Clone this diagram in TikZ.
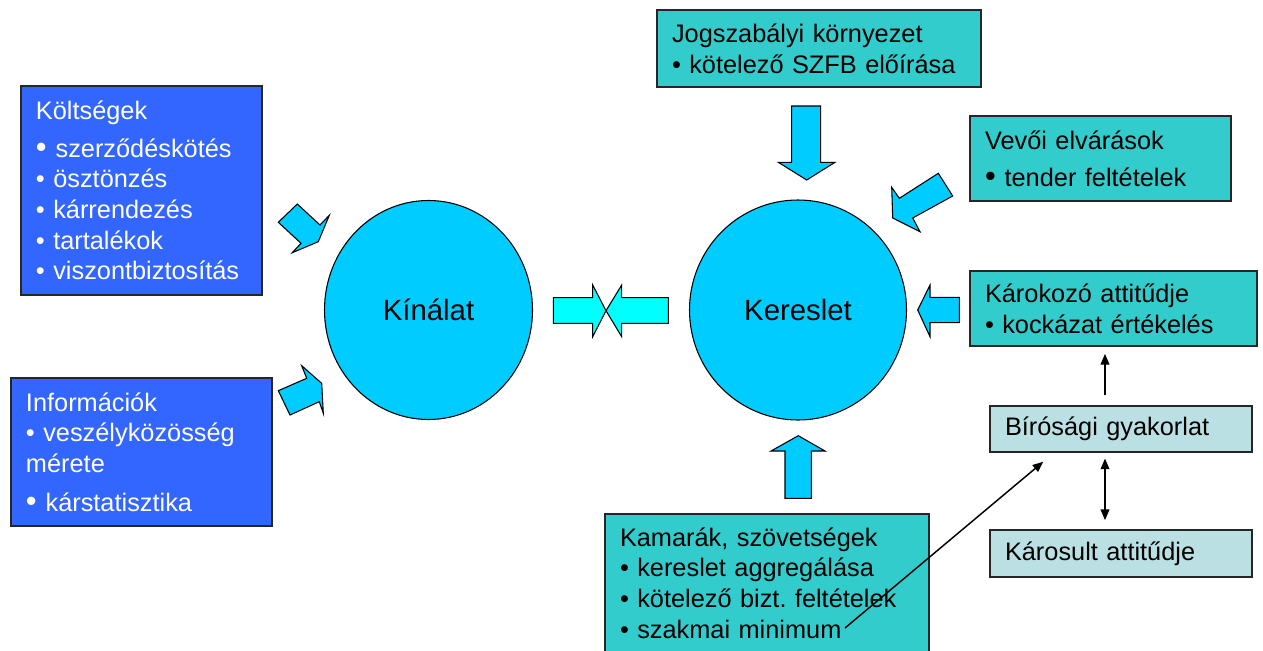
\documentclass[tikz,border=0pt]{standalone}
\usepackage{fontspec}
\setmainfont{Liberation Sans}
\usetikzlibrary{arrows.meta,shapes.geometric}
\definecolor{kekdoboz}{RGB}{51,102,255}
\definecolor{turkiz}{RGB}{51,204,204}
\definecolor{halvany}{RGB}{187,224,227}
\definecolor{korkek}{RGB}{0,204,255}
\definecolor{ciankek}{RGB}{0,255,255}
\frenchspacing
\def\nagypont{{\fontsize{23}{23}\selectfont •}\hspace{0.35em}}
\tikzset{
	doboz/.style={draw=black!85, line width=0.8pt, align=left, inner xsep=11.25pt, inner ysep=0pt},
	kekbox/.style={doboz, fill=kekdoboz, text=white},
	turkizbox/.style={doboz, fill=turkiz},
	halvanybox/.style={doboz, fill=halvany},
	kor/.style={ellipse, draw, line width=0.8pt, fill=korkek, inner sep=0pt, font=\fontsize{22}{26}\selectfont},
	vastag/.style={draw, line width=0.8pt, fill=korkek, line join=miter},
	vekony/.style={line width=1.1pt, -{Triangle[length=8pt,width=6.5pt]}}
}

\begin{document}
\begin{tikzpicture}[x=0.75pt, y=-0.75pt, font=\fontsize{19}{23}\selectfont]
			%%%%% START %%%%%
			\useasboundingbox (0,0) rectangle (1263,650);
			
			\node[kekbox, minimum width=180.75pt, minimum height=156.75pt, text width=158.25pt] (koltseg) at (141.5,190.5)
				{Költségek\\[5pt]\nagypont szerződéskötés\\• ösztönzés\\• kárrendezés\\• tartalékok\\• viszontbiztosítás};
			\node[kekbox, minimum width=195.75pt, minimum height=111pt, text width=173.25pt] (info) at (141.5,452)
				{Információk\\• veszélyközösség\\mérete\\[6pt]\nagypont kárstatisztika};
			
			\node[kor, minimum width=156pt, minimum height=164.25pt] (kinalat) at (428.5,310) {Kínálat};
			\node[kor, minimum width=162.75pt, minimum height=165pt] (kereslet) at (798,310) {Kereslet};
			
			\node[turkizbox, minimum width=243pt, minimum height=57.75pt, text width=220.5pt] (jog) at (819,48.5)
				{Jogszabályi környezet\\• kötelező SZFB előírása};
			\node[turkizbox, minimum width=195.75pt, minimum height=63.75pt, text width=173.25pt] (vevo) at (1100.5,158.5)
				{Vevői elvárások\\[4.5pt]\nagypont tender feltételek};
			\node[turkizbox, minimum width=215.25pt, minimum height=56.25pt, text width=192.75pt] (karokozo) at (1113.5,308.5)
				{Károkozó attitűdje\\• kockázat értékelés};
			\node[turkizbox, minimum width=243pt, minimum height=103.5pt, text width=220.5pt] (kamara) at (767,583)
				{Kamarák, szövetségek\\• kereslet aggregálása\\• kötelező bizt. feltételek\\• szakmai minimum};
			
			\node[halvanybox, minimum width=196.5pt, minimum height=34.5pt, text width=174pt] (birosag) at (1121,429) {Bírósági gyakorlat};
			\node[halvanybox, minimum width=196.5pt, minimum height=35.25pt, text width=174pt] (karosult) at (1121,553.5) {Károsult attitűdje};
			
			% vastag nyilak
			\draw[vastag] (278.3,222.3) -- (297.3,204) -- (320,225) -- (329.3,215.3) -- (318.3,241.7) -- (292.3,252.7) -- (301,243.3) -- cycle;
			\draw[vastag] (278.3,390.7) -- (306.7,378.3) -- (301.7,365.7) -- (321.7,383.3) -- (323.3,413.3) -- (319.3,401.7) -- (290,415) -- cycle;
			\draw[vastag] (791.7,106) -- (820.7,106) -- (820.7,162.3) -- (835,162.3) -- (806.7,180) -- (778.3,162.3) -- (791.7,162.3) -- cycle;
			\draw[vastag] (938.3,173.3) -- (952.7,196) -- (912.7,218) -- (920,231.7) -- (892.7,218) -- (891.7,187.3) -- (899.3,198.3) -- cycle;
			\draw[vastag] (959.3,297.3) -- (930,297.3) -- (930,285) -- (917.7,310) -- (930,336.7) -- (930,322.7) -- (959.3,322.7) -- cycle;
			\draw[vastag] (785,498.3) -- (785,451) -- (771,451) -- (798.3,435.7) -- (825,451) -- (811.3,451) -- (811.3,498.3) -- cycle;
			
			\draw[vastag, fill=ciankek] (553.3,297.7) -- (592.7,297.7) -- (592.7,285) -- (606,310.7) -- (592.7,336.7) -- (592.7,323.3) -- (553.3,323.3) -- cycle;
			\draw[vastag, fill=ciankek] (668.3,297.7) -- (621.7,297.7) -- (621.7,285) -- (606,310.7) -- (621.7,336.7) -- (621.7,323.3) -- (668.3,323.3) -- cycle;
			
			% vekony nyilak
			\coordinate (nyilx) at (1105,0);
			\coordinate (szakvege) at (845,628);
			\coordinate (birocel) at (1043.3,461.7);
			\draw[vekony, shorten <=7.5pt, shorten >=5.5pt] (birosag.north -| nyilx) -- (karokozo.south -| nyilx);
			\draw[vekony, {Triangle[length=8pt,width=6.5pt]}-{Triangle[length=8pt,width=6.5pt]}, shorten <=4.5pt, shorten >=7pt] (birosag.south -| nyilx) -- (karosult.north -| nyilx);
			\draw[vekony] (szakvege) -- (birocel);
			
			%%%%% END %%%%%
\end{tikzpicture}
\end{document}
